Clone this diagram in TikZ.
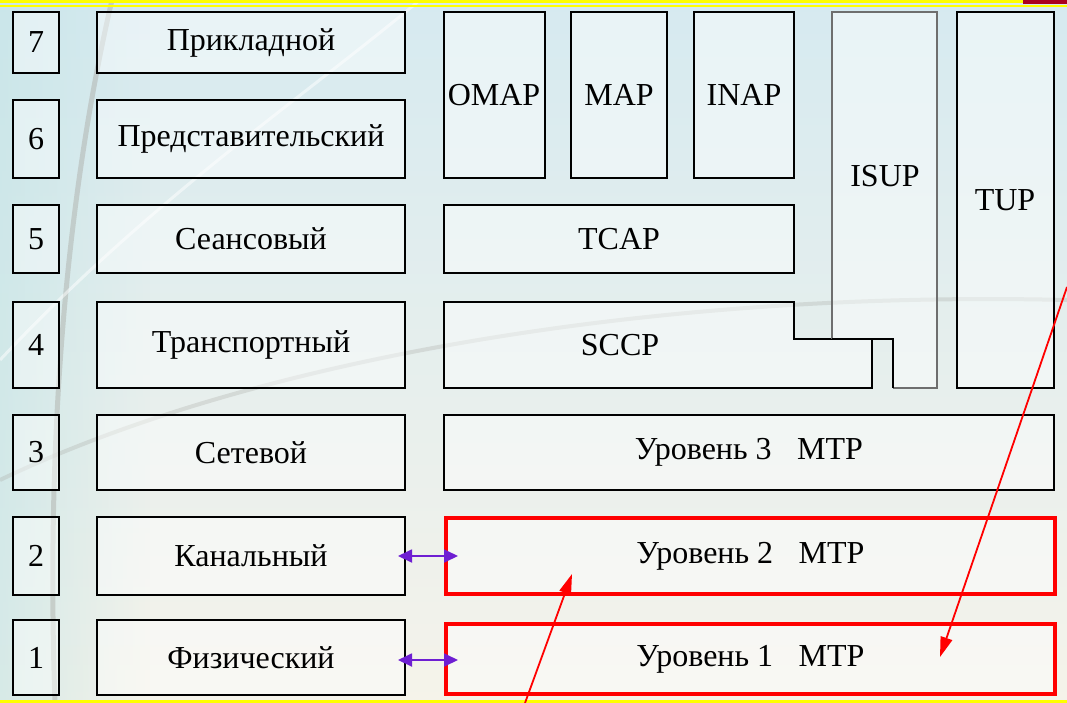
\documentclass[tikz,border=0pt]{standalone}
\usepackage{fontspec}
\setmainfont{Liberation Serif}
\usetikzlibrary{arrows.meta,fadings}
\definecolor{bgtop}{RGB}{214,234,240}
\definecolor{bgbot}{RGB}{245,243,234}
\definecolor{bgleft}{RGB}{195,228,230}
\definecolor{swoosh}{RGB}{170,170,165}
\definecolor{ylw}{RGB}{255,255,0}
\definecolor{darkred}{RGB}{170,0,30}
\definecolor{violet}{RGB}{110,30,210}
\definecolor{edgegray}{RGB}{110,110,110}
\tikzset{
  lbl/.style={font=\fontsize{32}{34}\selectfont},
  boxs/.style={draw=black, line width=1.2pt, fill=white, fill opacity=0.45, text opacity=1, inner sep=0pt, outer sep=0pt, anchor=north west, lbl},
  redbox/.style={boxs, draw=red, line width=3.8pt},
  purarrow/.style={{Triangle[length=14pt,width=13pt]}-{Triangle[length=14pt,width=13pt]}, violet, line width=1.8pt},
  redarrow/.style={-{Triangle[length=20pt,width=12pt]}, red, line width=1.8pt},
}
\newcommand\mkbox[7][boxs]{\node[#1, minimum width={#5-#3}, minimum height={#6-#4}] (#2) at (#3,#4) {#7};}
\begin{document}
\begin{tikzpicture}[x=1pt,y=-1pt]
\useasboundingbox (0,0) rectangle (1067,703);
% background
\shade[top color=bgtop, bottom color=bgbot] (0,0) rectangle (1067,703);
\fill[bgleft, path fading=east, opacity=0.6] (0,0) rectangle (150,703);
\draw[swoosh, opacity=0.45, line width=5pt] (112,0) .. controls (70,180) and (45,420) .. (55,703);
\draw[swoosh, opacity=0.3, line width=4pt] (0,480) .. controls (250,360) and (650,290) .. (1067,300);
\draw[white, opacity=0.5, line width=3pt] (0,360) .. controls (150,200) and (300,100) .. (420,0);
% stripes
\fill[ylw] (0,0) rectangle (1067,3.3);
\fill[ylw] (0,4.7) rectangle (1067,7.5);
\fill[darkred] (1023,0) rectangle (1067,3.8);
\fill[ylw] (0,699.5) rectangle (1067,703);
% number column
\mkbox{n7}{13}{12}{59}{73}{7}
\mkbox{n6}{13}{100}{59}{178}{6}
\mkbox{n5}{13}{205}{59}{273}{5}
\mkbox{n4}{13}{302}{59}{388}{4}
\mkbox{n3}{13}{415}{59}{490}{3}
\mkbox{n2}{13}{517}{59}{595}{2}
\mkbox{n1}{13}{620}{59}{695}{1}
% OSI names
\mkbox{o7}{97}{12}{405}{73}{Прикладной}
\mkbox{o6}{97}{100}{405}{178}{Представительский}
\mkbox{o5}{97}{205}{405}{273}{Сеансовый}
\mkbox{o4}{97}{302}{405}{388}{Транспортный}
\mkbox{o3}{97}{415}{405}{490}{Сетевой}
\mkbox{o2}{97}{517}{405}{595}{Канальный}
\mkbox{o1}{97}{620}{405}{695}{Физический}
% SS7 stack
\mkbox{omap}{444}{12}{545}{178}{}
\node[lbl] at (494,95) {OMAP};
\mkbox{map}{571}{12}{667}{178}{}
\node[lbl] at (619,95) {MAP};
\mkbox{inap}{694}{12}{794}{178}{}
\node[lbl] at (744,95) {INAP};
\mkbox{tcap}{444}{205}{794}{273}{TCAP}
% SCCP (notched) and ISUP
\fill[white, opacity=0.45] (444,302) -- (794,302) -- (794,339) -- (872,339) -- (872,388) -- (444,388) -- cycle;
\draw[black, line width=1.2pt] (444,302) -- (794,302) -- (794,339) -- (872,339) -- (872,388) -- (444,388) -- cycle;
\node[lbl] (sccp) at (620,345) {SCCP};
\fill[white, opacity=0.45] (832,12) -- (937,12) -- (937,388) -- (893,388) -- (893,339) -- (832,339) -- cycle;
\draw[edgegray, line width=1.2pt] (832,339) -- (832,12) -- (937,12) -- (937,388) -- (893,388);
\draw[black, line width=1.4pt] (832,339) -- (893,339) -- (893,388);
\node[lbl] (isup) at (885,176) {ISUP};
\mkbox{tup}{957}{12}{1054}{388}{}
\node[lbl] at (1005,200) {TUP};
\mkbox{l3}{444}{415}{1054}{490}{Уровень 3\hspace{0.8em}MTP}
\mkbox[redbox]{l2}{446}{518}{1055}{594}{Уровень 2\hspace{0.8em}MTP}
\mkbox[redbox]{l1}{446}{624}{1055}{694}{Уровень 1\hspace{0.8em}MTP}
% arrows
\draw[purarrow] (398,556) -- (458,556);
\draw[purarrow] (398,660) -- (458,660);
\coordinate (a1s) at (525,703);
\coordinate (a1e) at (572,574);
\coordinate (a2s) at (1067,287);
\coordinate (a2e) at (940,657);
\draw[redarrow] (a1s) -- (a1e);
\draw[redarrow] (a2s) -- (a2e);
\end{tikzpicture}
\end{document}
